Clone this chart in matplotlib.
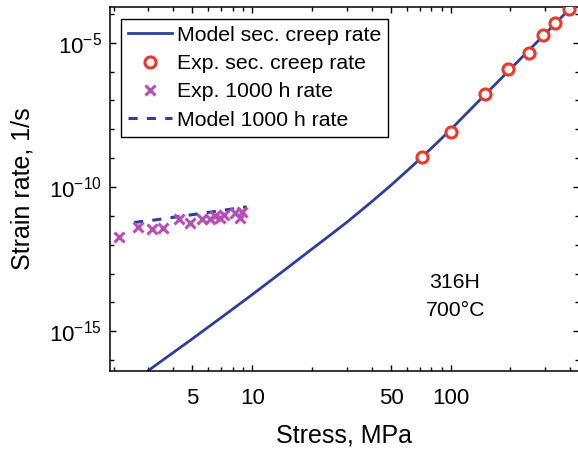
import matplotlib
matplotlib.use('Agg')
import matplotlib.pyplot as plt
from matplotlib.ticker import FixedLocator, FuncFormatter, NullFormatter
import numpy as np

plt.rcParams['font.family'] = ['Liberation Sans', 'DejaVu Sans']
plt.rcParams['mathtext.fontset'] = 'custom'
plt.rcParams['mathtext.rm'] = 'Liberation Sans'
plt.rcParams['mathtext.it'] = 'Liberation Sans:italic'
plt.rcParams['mathtext.bf'] = 'Liberation Sans:bold'

# Model secondary creep rate (stress MPa, log10 strain rate 1/s)
model_stress = [3, 4, 5, 7, 10, 15, 20, 25, 30, 40, 50, 60, 70, 85, 100,
                125, 150, 200, 300, 450]
model_log_rate = [-16.36, -15.74, -15.26, -14.52, -13.73, -12.81, -12.15,
                  -11.64, -11.22, -10.51, -9.94, -9.45, -9.03, -8.48, -8.01,
                  -7.33, -6.78, -5.91, -4.68, -3.45]

# Experimental secondary creep rate
exp_stress = [72, 100, 149, 195, 249, 293, 337, 393]
exp_log_rate = [-8.97, -8.09, -6.79, -5.92, -5.35, -4.74, -4.31, -3.83]

# Experimental 1000 h rate
h1000_stress = [2.13, 2.67, 3.13, 3.54, 4.28, 4.84, 5.59, 6.15, 6.52, 6.85,
                7.23, 8.22, 8.63, 8.87]
h1000_log_rate = [-11.75, -11.38, -11.46, -11.41, -11.12, -11.24, -11.12,
                  -11.12, -11.00, -11.06, -10.97, -10.91, -11.06, -10.86]

# Model 1000 h rate
m1000_stress = [2.54, 3.26, 6.03, 9.4]
m1000_log_rate = [-11.23, -11.14, -10.88, -10.69]

blue = '#2C3E9E'
red = '#E8392B'
purple = '#B84DBA'

fig = plt.figure(figsize=(5.78, 4.5), dpi=100)
W, H = 578, 450
ax = fig.add_axes([110 / W, 1 - 371 / H, (579 - 110) / W, (371 - 7) / H])

ax.plot(model_stress, 10.0 ** np.array(model_log_rate), color=blue, lw=2.0,
        label='Model sec. creep rate', zorder=2)
ax.plot(exp_stress, 10.0 ** np.array(exp_log_rate), 'o', ms=8, mew=2.2,
        mec=red, mfc='white', label='Exp. sec. creep rate', zorder=3)
ax.plot(h1000_stress, 10.0 ** np.array(h1000_log_rate), 'x', ms=6.5, mew=2.2,
        color=purple, label='Exp. 1000 h rate', zorder=4)
ax.plot(m1000_stress, 10.0 ** np.array(m1000_log_rate), color=blue, lw=2.2,
        dashes=(3, 3), label='Model 1000 h rate', zorder=3)

ax.set_xscale('log')
ax.set_yscale('log')
ax.set_xlim(1.92, 443)
ax.set_ylim(10 ** -16.38, 10 ** -3.76)

ax.xaxis.set_major_locator(FixedLocator([5, 10, 50, 100, 500]))
ax.xaxis.set_minor_locator(FixedLocator([2, 3, 4, 6, 7, 8, 9, 20, 30, 40, 60, 70, 80, 90,
                                         200, 300, 400]))
ax.xaxis.set_major_formatter(FuncFormatter(lambda v, p: '%g' % v))
ax.xaxis.set_minor_formatter(NullFormatter())

ax.yaxis.set_major_locator(FixedLocator([1e-15, 1e-10, 1e-5]))
ax.yaxis.set_minor_locator(FixedLocator([10.0 ** k for k in range(-17, -2)]))
ax.yaxis.set_major_formatter(FuncFormatter(
    lambda v, p: r'$\mathregular{10^{%d}}$' % int(round(np.log10(v)))))
ax.yaxis.set_minor_formatter(NullFormatter())

ax.tick_params(which='both', direction='in', top=True, right=True, width=1.0)
ax.tick_params(which='major', length=4.5, labelsize=16)
ax.tick_params(which='minor', length=2.6)
ax.tick_params(axis='x', which='major', pad=12)
ax.tick_params(axis='y', which='major', pad=6)
for s in ax.spines.values():
    s.set_linewidth(1.1)

ax.set_xlabel('Stress, MPa', fontsize=18, labelpad=11)
ax.set_ylabel('Strain rate, 1/s', fontsize=18, labelpad=10)

leg = ax.legend(loc='upper left', bbox_to_anchor=(121 / W, 1 - 19 / H),
                bbox_transform=fig.transFigure, borderaxespad=0, fontsize=15.3,
                frameon=True, fancybox=False, edgecolor='black', framealpha=1,
                handlelength=2.1, handletextpad=0.2, labelspacing=0.44,
                borderpad=0.32, numpoints=1)
leg.get_frame().set_linewidth(1.0)

fig.text(455 / W, 1 - 282 / H, '316H', ha='center', va='center', fontsize=15.3)
fig.text(456 / W, 1 - 311 / H, '700\u00b0C', ha='center', va='center', fontsize=15.3)

fig.savefig('out.png', dpi=100)
